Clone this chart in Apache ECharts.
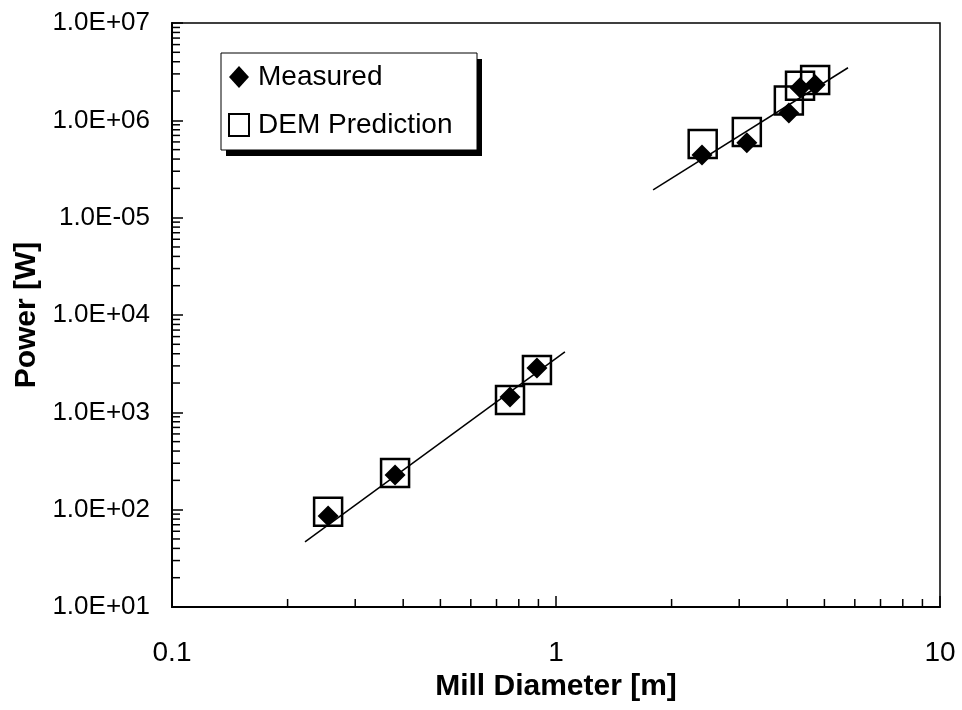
<!DOCTYPE html>
<html>
<head>
<meta charset="utf-8">
<script src="https://cdn.jsdelivr.net/npm/echarts@6/dist/echarts.min.js"></script>
<style>
html,body{margin:0;padding:0;background:#fff;}
#chart{width:962px;height:710px;}
</style>
</head>
<body>
<div id="chart"></div>
<script>
// ---- data ----
const measuredX = [0.255, 0.381, 0.759, 0.892, 2.40, 3.14, 4.04, 4.32, 4.73];
const measuredY = [86, 227, 1440, 2860, 4.4e5, 5.9e5, 1.19e6, 2.16e6, 2.32e6];
const demX = [0.255, 0.381, 0.759, 0.892, 2.41, 3.14, 4.04, 4.32, 4.73];
const demY = [95, 238, 1340, 2730, 5.7e5, 7.6e5, 1.6e6, 2.27e6, 2.6e6];
const fitLowX = [0.222, 1.055];
const fitLowY = [46.6, 4180];
const fitHighX = [1.79, 5.76];
const fitHighY = [1.93e5, 3.47e6];
const yTickLabels = {1: '1.0E+01', 2: '1.0E+02', 3: '1.0E+03', 4: '1.0E+04', 5: '1.0E-05', 6: '1.0E+06', 7: '1.0E+07'};
const xTickLabels = {'-1': '0.1', '0': '1', '1': '10'};
const xMinorTicks = [0.2, 0.3, 0.4, 0.5, 0.6, 0.7, 0.8, 0.9, 2, 3, 4, 5, 6, 7, 8, 9];
const yMinorTicks = [];
[10, 100, 1000, 1e4, 1e5, 1e6].forEach(function (d) {
  [2, 3, 4, 5, 6, 7, 8, 9].forEach(function (m) { yMinorTicks.push(d * m); });
});
const xMin = 0.1, xMax = 10, yMin = 10, yMax = 1e7;

// ---- chart ----
const FONT = 'Liberation Sans, Arial, Helvetica, sans-serif';
const zip = (a, b) => a.map((v, i) => [v, b[i]]);
const chart = echarts.init(document.getElementById('chart'), null, {renderer: 'canvas'});

const option = {
  backgroundColor: '#ffffff',
  animation: false,
  grid: {
    left: 172, right: 22, top: 23, bottom: 103,
    show: true, borderColor: '#000', borderWidth: 1.5, backgroundColor: 'transparent'
  },
  graphic: [
    {type: 'rect', z: 50, silent: true, shape: {x: 226, y: 59, width: 256, height: 97}, style: {fill: '#000'}},
    {type: 'rect', z: 51, silent: true, shape: {x: 221, y: 53, width: 256, height: 97}, style: {fill: '#fff', stroke: '#000', lineWidth: 1}}
  ],
  legend: {
    orient: 'vertical',
    left: 221, top: 53, z: 60,
    padding: [10, 17, 11, 7],
    itemGap: 20,
    itemWidth: 20, itemHeight: 22,
    textStyle: {fontFamily: FONT, fontSize: 28, color: '#000', padding: [0, 0, 0, 4]},
    data: [
      {name: 'Measured', icon: 'diamond', itemStyle: {color: '#000', borderWidth: 0, opacity: 1}},
      {name: 'DEM Prediction', icon: 'rect', itemStyle: {color: 'transparent', borderColor: '#000', borderWidth: 2, opacity: 1}}
    ]
  },
  xAxis: {
    type: 'log', logBase: 10, min: xMin, max: xMax, splitNumber: 2,
    name: 'Mill Diameter [m]', nameLocation: 'middle', nameGap: 64,
    nameTextStyle: {fontFamily: FONT, fontSize: 30, fontWeight: 'bold', color: '#000'},
    axisLine: {lineStyle: {color: '#000', width: 2}},
    axisTick: {inside: true, length: 11, lineStyle: {color: '#000', width: 1.5}},
    splitLine: {show: false},
    axisLabel: {
      fontFamily: FONT, fontSize: 28, color: '#000', margin: 32,
      formatter: function (v) { return xTickLabels[String(Math.round(Math.log10(v)))] || ''; }
    }
  },
  yAxis: {
    type: 'log', logBase: 10, min: yMin, max: yMax, splitNumber: 6,
    name: 'Power [W]', nameLocation: 'middle', nameGap: 129,
    nameTextStyle: {fontFamily: FONT, fontSize: 30, fontWeight: 'bold', color: '#000'},
    axisLine: {lineStyle: {color: '#000', width: 2}},
    axisTick: {inside: true, length: 11, lineStyle: {color: '#000', width: 1.5}},
    splitLine: {show: false},
    axisLabel: {
      fontFamily: FONT, fontSize: 26, color: '#000', margin: 22,
      formatter: function (v) { return yTickLabels[String(Math.round(Math.log10(v)))] || ''; }
    }
  },
  series: [
    {
      name: 'xminor', type: 'scatter', silent: true, clip: false, z: 1,
      symbol: 'rect', symbolSize: [1.5, 8], symbolOffset: [0, -4],
      itemStyle: {color: '#000', opacity: 1},
      data: xMinorTicks.map(v => [v, yMin])
    },
    {
      name: 'yminor', type: 'scatter', silent: true, clip: false, z: 1,
      symbol: 'rect', symbolSize: [8, 1.5], symbolOffset: [4, 0],
      itemStyle: {color: '#000', opacity: 1},
      data: yMinorTicks.map(v => [xMin, v])
    },
    {
      name: 'fitLow', type: 'line', silent: true, symbol: 'none', z: 2,
      lineStyle: {color: '#000', width: 1.5},
      data: zip(fitLowX, fitLowY)
    },
    {
      name: 'fitHigh', type: 'line', silent: true, symbol: 'none', z: 2,
      lineStyle: {color: '#000', width: 1.5},
      data: zip(fitHighX, fitHighY)
    },
    {
      name: 'DEM Prediction', type: 'scatter', z: 3,
      symbol: 'rect', symbolSize: 28,
      itemStyle: {color: 'transparent', borderColor: '#000', borderWidth: 2.5, opacity: 1},
      data: zip(demX, demY)
    },
    {
      name: 'Measured', type: 'scatter', z: 4,
      symbol: 'diamond', symbolSize: 21,
      itemStyle: {color: '#000', opacity: 1},
      data: zip(measuredX, measuredY)
    }
  ]
};
chart.setOption(option);
</script>
</body>
</html>
